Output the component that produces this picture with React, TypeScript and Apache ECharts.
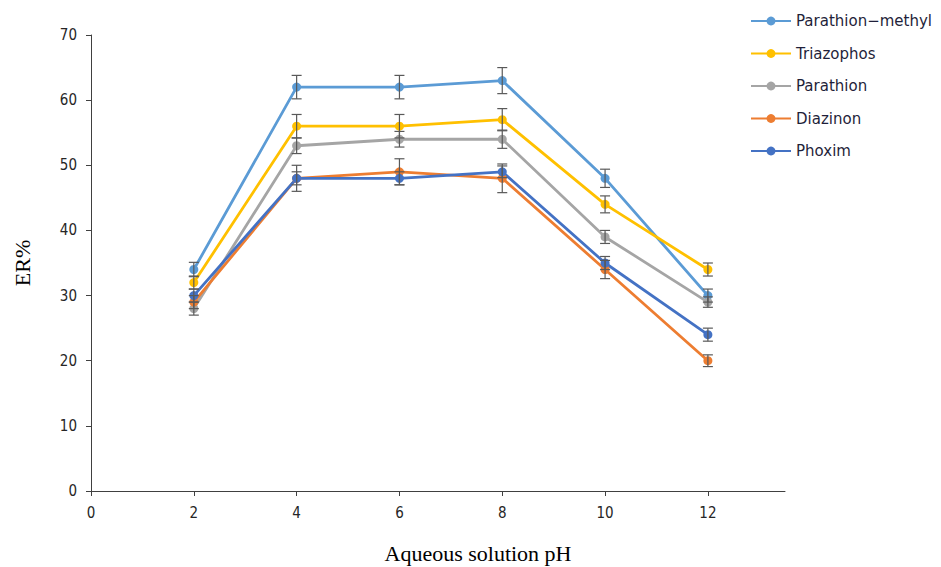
import React, { useEffect, useRef } from "react";
import * as echarts from "echarts";

const phValues = [2, 4, 6, 8, 10, 12];
const seriesNames = ["Parathion\u2212methyl", "Triazophos", "Parathion", "Diazinon", "Phoxim"];
const parathionMethyl = [34, 62, 62, 63, 48, 30];
const triazophos = [32, 56, 56, 57, 44, 34];
const parathion = [28, 53, 54, 54, 39, 29];
const diazinon = [29, 48, 49, 48, 34, 20];
const phoxim = [30, 48, 48, 49, 35, 24];
const errPM = [1.1, 1.8, 1.8, 2.0, 1.4, 1.0];
const errTri = [1.0, 1.8, 1.8, 1.7, 1.3, 1.0];
const errPar = [1.0, 1.2, 1.2, 1.4, 1.0, 0.8];
const errDia = [1.0, 2.0, 2.0, 2.2, 1.4, 0.9];
const errPho = [1.0, 1.0, 1.0, 0.9, 1.0, 1.0];
const xTicks = [0, 2, 4, 6, 8, 10, 12];

const colors = ["#5B9BD5", "#FFC000", "#A5A5A5", "#ED7D31", "#4472C4"];

export default function App() {
  const ref = useRef<HTMLDivElement>(null);
  useEffect(() => {
    if (!ref.current) return;
    const chart = echarts.init(ref.current, null, { renderer: "svg" });
    const values = [parathionMethyl, triazophos, parathion, diazinon, phoxim];
    const errors = [errPM, errTri, errPar, errDia, errPho];
    const lineSeries = seriesNames.map((name, i) => ({
      name,
      type: "line",
      data: phValues.map((x, j) => [x, values[i][j]]),
      symbol: "circle",
      symbolSize: 9,
      itemStyle: { color: colors[i] },
      lineStyle: { color: colors[i], width: 2.8 },
      z: 3,
    }));
    const errData: number[][] = [];
    values.forEach((vals, i) => {
      vals.forEach((v, j) => {
        errData.push([phValues[j], v - errors[i][j], v + errors[i][j]]);
      });
    });
    const errSeries = {
      type: "custom",
      name: "err",
      data: errData,
      z: 4,
      renderItem: (params: any, api: any) => {
        const x = api.value(0);
        const lo = api.coord([x, api.value(1)]);
        const hi = api.coord([x, api.value(2)]);
        const w = 5;
        const style = { stroke: "#595959", lineWidth: 1.2 };
        return {
          type: "group",
          children: [
            { type: "line", shape: { x1: lo[0], y1: lo[1], x2: hi[0], y2: hi[1] }, style },
            { type: "line", shape: { x1: lo[0] - w, y1: lo[1], x2: lo[0] + w, y2: lo[1] }, style },
            { type: "line", shape: { x1: hi[0] - w, y1: hi[1], x2: hi[0] + w, y2: hi[1] }, style },
          ],
        };
      },
    };
    const tickFont = {
      fontFamily: "DejaVu Sans Condensed",
      fontSize: 15,
      color: "#262626",
    };
    chart.setOption({
      animation: false,
      backgroundColor: "#ffffff",
      grid: { left: 91, right: 156, top: 35, bottom: 76 },
      legend: {
        data: seriesNames,
        orient: "vertical",
        left: 745,
        top: 7,
        itemGap: 14.5,
        itemWidth: 40,
        itemHeight: 11,
        textStyle: { fontFamily: "DejaVu Sans", fontSize: 15, color: "#1f1f3a", lineHeight: 18 },
      },
      xAxis: {
        type: "value",
        min: 0,
        max: 13.5,
        interval: 2,
        axisLine: { lineStyle: { color: "#404040", width: 1 } },
        axisTick: { show: true, length: 5, lineStyle: { color: "#404040" } },
        splitLine: { show: false },
        axisLabel: {
          showMaxLabel: false,
          margin: 14,
          ...tickFont,
          formatter: (v: number) => (xTicks.includes(v) ? String(v) : ""),
        },
      },
      yAxis: {
        type: "value",
        min: 0,
        max: 70,
        interval: 10,
        name: "ER%",
        nameLocation: "middle",
        nameGap: 58,
        nameTextStyle: { fontFamily: "Liberation Serif", fontSize: 22, color: "#000" },
        axisLine: { show: true, lineStyle: { color: "#404040", width: 1 } },
        axisTick: { show: true, length: 5, lineStyle: { color: "#404040" } },
        splitLine: { show: false },
        axisLabel: {
          margin: 14,
          ...tickFont,
        },
      },
      graphic: [
        {
          type: "text",
          x: 478,
          y: 553,
          style: {
            text: "Aqueous solution pH",
            font: "22px 'Liberation Serif'",
            fill: "#000",
            align: "center",
            verticalAlign: "middle",
          },
        },
      ],
      series: [...lineSeries, errSeries],
    });
    return () => chart.dispose();
  }, []);
  return <div ref={ref} style={{ width: 941, height: 567, position: "absolute", left: 0, top: 0 }} />;
}
